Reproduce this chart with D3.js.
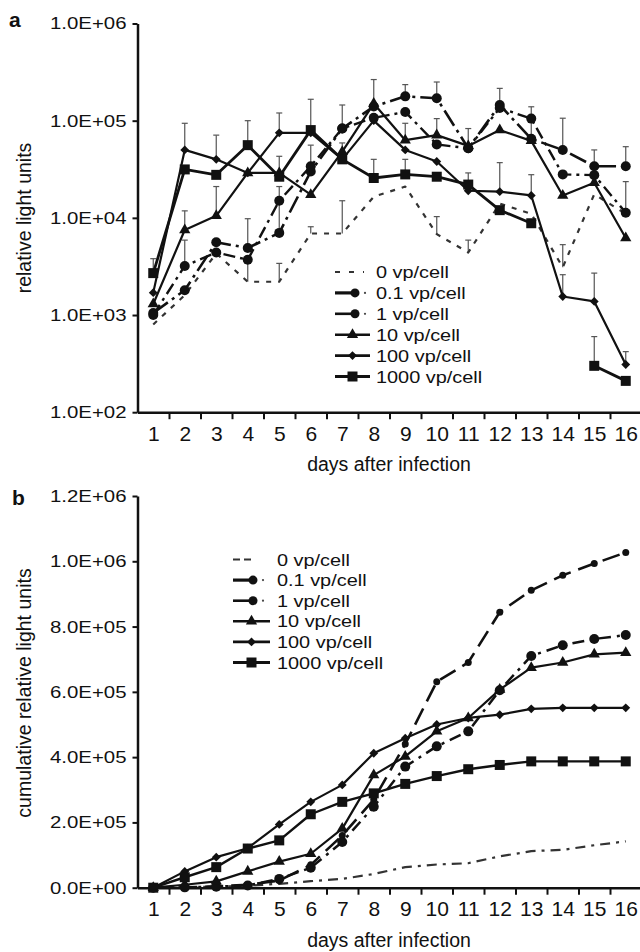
<!DOCTYPE html>
<html>
<head>
<meta charset="utf-8">
<script src="https://cdn.jsdelivr.net/npm/d3@7"></script>
<style>
  body { margin: 0; background: #fff; }
  text { font-family: "Liberation Sans", Arial, sans-serif; fill: #111; }
</style>
</head>
<body>
<div id="chart"></div>
<script>

// ---- data ----
var days = d3.range(1, 17);
var seriesNames = ["0 vp/cell", "0.1 vp/cell", "1 vp/cell", "10 vp/cell", "100 vp/cell", "1000 vp/cell"];

// panel a: relative light units per day (log scale), err = top of error bar
var rlu0    = [800, 1600, 4300, 2200, 2200, 6900, 6900, 16500, 21000, 6800, 4400, 14000, 11000, 3100, 17500, 11000];
var rlu01   = [1050, 1800, 5600, 4900, 7000, 30000, 83000, 140000, 178000, 170000, 52000, 145000, 65000, 50000, 34000, 34000];
var rlu1    = [1000, 3200, 4400, 3700, 15000, 34000, 83000, 107000, 123000, 57000, 52000, 135000, 105000, 28000, 27500, 11300];
var rlu10   = [1300, 7500, 10500, 29000, 29000, 17300, 48000, 150000, 63000, 71000, 55000, 80000, 62000, 17000, 23000, 6200];
var rlu100  = [1700, 50000, 40000, 29000, 75000, 75000, 40000, 100000, 50000, 38000, 19000, 18600, 17000, 1550, 1380, 310];
var rlu1000 = [2700, 31500, 27700, 56000, 26500, 80000, 40000, 25700, 28000, 26500, 22000, 12000, 8800, null, 300, 210];

var err0    = [null, null, null, 3400, 3400, 8100, 15000, null, null, 10300, 5900, null, null, 5300, null, null];
var err01   = [null, null, null, 9800, 21000, null, null, null, 235000, 250000, null, 215000, 139000, 106000, null, 54000];
var err1    = [null, 5900, null, null, null, 56000, 145000, null, null, null, null, null, null, null, null, 23600];
var err10   = [null, 11800, 21000, null, 43000, null, null, 265000, 94000, 105000, 83000, null, null, null, 50000, null];
var err100  = [null, 94000, 71000, null, 120000, null, null, null, null, null, null, 37000, 27800, 2600, 2700, 420];
var err1000 = [3800, null, null, 100000, null, 166000, 59000, 40000, 40000, null, 29000, null, null, null, 600, null];

// panel b: cumulative relative light units
var cum0    = [0, 1500, 3000, 6000, 12000, 20000, 27000, 42000, 63000, 71000, 75000, 96000, 112000, 116000, 130000, 142000];
var cum01   = [0, 1000, 4000, 9000, 22000, 70000, 160000, 270000, 440000, 631000, 690000, 844000, 911000, 957000, 993000, 1027000];
var cum1    = [0, 1000, 3000, 7000, 27000, 61000, 140000, 248000, 371000, 433000, 479000, 605000, 710000, 743000, 762000, 774000];
var cum10   = [0, 9000, 19500, 50000, 80000, 104000, 181000, 345000, 402000, 479000, 520000, 607000, 674000, 690000, 715000, 720000];
var cum100  = [0, 50000, 93500, 121000, 194000, 263000, 315000, 412000, 458000, 500000, 520000, 530000, 548000, 551000, 551000, 551000];
var cum1000 = [0, 32000, 63000, 120000, 145000, 225000, 263000, 289000, 318000, 342000, 363000, 376000, 387000, 387000, 387000, 387000];

var ticksA = [1e2, 1e3, 1e4, 1e5, 1e6];
var ticksB = [0, 2e5, 4e5, 6e5, 8e5, 1e6, 1.2e6];

// ---- styles (per series index) ----
var stylesA = [
    { dash: "5,7",        width: 2.2, marker: null },
    { dash: "18,5,3,5",   width: 2.6, marker: "circle", size: 5 },
    { dash: "12,5,3,5",   width: 2.4, marker: "circle", size: 5 },
    { dash: null,         width: 2.2, marker: "triangle", size: 10 },
    { dash: null,         width: 2.2, marker: "diamond", size: 5 },
    { dash: null,         width: 2.8, marker: "square", size: 10 }
];
var stylesB = [
    { dash: "10,6,3,6",   width: 2.2, marker: null },
    { dash: "18,8",       width: 2.6, marker: "circle", size: 3.5 },
    { dash: "12,6,3,6",   width: 2.5, marker: "circle", size: 5 },
    { dash: null,         width: 2.2, marker: "triangle", size: 10 },
    { dash: null,         width: 2.2, marker: "diamond", size: 5 },
    { dash: null,         width: 2.4, marker: "square", size: 10 }
];

var svg = d3.select("#chart").append("svg")
    .attr("width", 640)
    .attr("height", 952);

var x = d3.scaleLinear().domain([0.5, 16.5]).range([137.5, 641.5]);

function fmtE(v) {
    var parts = v.toExponential(1).split("e");
    return parts[0] + "E" + parts[1][0] + parts[1].slice(1).padStart(2, "0");
}

function markerPath(type, size) {
    if (type === "circle") return d3.symbol(d3.symbolCircle, Math.PI * size * size)();
    if (type === "square") return d3.symbol(d3.symbolSquare, size * size)();
    if (type === "diamond") return d3.symbol(d3.symbolDiamond2 || d3.symbolSquare, size * size * 2)();
    if (type === "triangle") return d3.symbol(d3.symbolTriangle, size * size * 0.55)();
}

function drawMarker(g, type, size, cx, cy) {
    var p = g.append("path")
        .attr("d", markerPath(type, size))
        .attr("fill", "#111");
    if (type === "diamond" && !d3.symbolDiamond2) {
        p.attr("transform", "translate(" + cx + "," + cy + ") rotate(45)");
    } else {
        p.attr("transform", "translate(" + cx + "," + cy + ")");
    }
}

function drawPanel(cfg) {
    var g = svg.append("g");
    var y = cfg.y;
    var y0 = y.range()[0];

    // error bars
    cfg.series.forEach(function(s) {
        if (!s.err) return;
        s.err.forEach(function(e, i) {
            if (e == null || s.values[i] == null) return;
            var cx = x(days[i]);
            g.append("line").attr("x1", cx).attr("x2", cx)
                .attr("y1", y(s.values[i])).attr("y2", y(e))
                .attr("stroke", "#555").attr("stroke-width", 1.2);
            g.append("line").attr("x1", cx - 3).attr("x2", cx + 3)
                .attr("y1", y(e)).attr("y2", y(e))
                .attr("stroke", "#555").attr("stroke-width", 1.2);
        });
    });

    // lines
    var line = d3.line()
        .defined(function(d) { return d.v != null; })
        .x(function(d) { return x(d.day); })
        .y(function(d) { return y(d.v); });

    cfg.series.forEach(function(s, k) {
        var st = cfg.styles[k];
        var pts = days.map(function(d, i) { return { day: d, v: s.values[i] }; });
        g.append("path")
            .datum(pts)
            .attr("d", line)
            .attr("fill", "none")
            .attr("stroke", k === 0 ? "#333" : "#111")
            .attr("stroke-width", st.width)
            .attr("stroke-dasharray", st.dash)
            .attr("stroke-linejoin", "round");
        if (st.marker) {
            pts.forEach(function(p) {
                if (p.v == null) return;
                drawMarker(g, st.marker, st.size, x(p.day), y(p.v));
            });
        }
    });

    // x axis: labels at centres, ticks at boundaries
    var xl = g.append("g").attr("transform", "translate(0," + y0 + ")")
        .call(d3.axisBottom(x).tickValues(days).tickSize(0).tickPadding(13.5).tickFormat(d3.format("d")));
    xl.select(".domain").attr("stroke", "#111").attr("stroke-width", 2.5);
    xl.selectAll("text").style("font-size", "21px").style("font-family", "'Liberation Sans', Arial, sans-serif");

    var xt = g.append("g").attr("transform", "translate(0," + y0 + ")")
        .call(d3.axisBottom(x).tickValues(d3.range(1.5, 17, 1)).tickSize(7).tickSizeOuter(0).tickFormat(""));
    xt.select(".domain").remove();
    xt.selectAll("line").attr("stroke", "#111").attr("stroke-width", 2);

    // y axis
    var ya = g.append("g").attr("transform", "translate(137.5,0)")
        .call(d3.axisLeft(y).tickValues(cfg.ticks).tickSize(5).tickSizeOuter(0).tickFormat(fmtE));
    ya.select(".domain").attr("stroke", "#111").attr("stroke-width", 2.5);
    ya.selectAll("line").attr("stroke", "#111").attr("stroke-width", 2);
    ya.selectAll("text")
        .style("font-size", "17px")
        .style("font-family", "'Liberation Sans', Arial, sans-serif")
        .attr("x", -11 / 1.2)
        .attr("transform", "scale(1.2,1)");

    // titles
    g.append("text")
        .attr("x", 389).attr("y", y0 + 59)
        .attr("text-anchor", "middle")
        .style("font-size", "19.5px")
        .text("days after infection");

    g.append("text")
        .attr("transform", "translate(" + cfg.titleX + "," + cfg.titleY + ") rotate(-90)")
        .attr("text-anchor", "middle")
        .attr("dy", "0.35em")
        .style("font-size", "19.5px")
        .text(cfg.yTitle);

    g.append("text")
        .attr("x", cfg.labelX).attr("y", cfg.labelY)
        .style("font-size", "21px")
        .style("font-weight", "bold")
        .text(cfg.label);

    // legend
    var lg = g.append("g");
    seriesNames.forEach(function(name, k) {
        var st = cfg.styles[k];
        var ry = cfg.legY + k * cfg.legStep;
        var x0 = cfg.legX;
        var w = cfg.legW;
        if (k === 0) {
            lg.append("line").attr("x1", x0).attr("x2", x0 + w - 6).attr("y1", ry).attr("y2", ry)
                .attr("stroke", "#333").attr("stroke-width", st.width)
                .attr("stroke-dasharray", cfg.legDash0);
        } else if (st.marker === "circle") {
            lg.append("line").attr("x1", x0).attr("x2", x0 + 20).attr("y1", ry).attr("y2", ry)
                .attr("stroke", "#111").attr("stroke-width", k === 1 ? 3.2 : 2.6);
            drawMarker(lg, "circle", 4.5, x0 + 20, ry);
            lg.append("circle").attr("cx", x0 + 30).attr("cy", ry).attr("r", 1.1).attr("fill", "#444");
        } else {
            lg.append("line").attr("x1", x0).attr("x2", x0 + w).attr("y1", ry).attr("y2", ry)
                .attr("stroke", "#111").attr("stroke-width", st.width + 0.4);
            drawMarker(lg, st.marker, st.size, x0 + w / 2, ry);
        }
        lg.append("g").attr("transform", "translate(" + cfg.legTextX + "," + (ry + 6) + ")")
            .append("text")
            .attr("transform", "scale(1.17,1)")
            .style("font-size", "17px")
            .text(name);
    });
}

drawPanel({
    y: d3.scaleLog().domain([1e2, 1e6]).range([412.2, 23.5]),
    ticks: ticksA,
    styles: stylesA,
    series: [
        { values: rlu0, err: err0 },
        { values: rlu01, err: err01 },
        { values: rlu1, err: err1 },
        { values: rlu10, err: err10 },
        { values: rlu100, err: err100 },
        { values: rlu1000, err: err1000 }
    ],
    yTitle: "relative light units",
    titleX: 24, titleY: 218,
    label: "a", labelX: 9, labelY: 27,
    legX: 335, legW: 35, legTextX: 376, legY: 272, legStep: 20.9, legDash0: "5,9"
});

drawPanel({
    y: d3.scaleLinear().domain([0, 1.2e6]).range([887.7, 496]),
    ticks: ticksB,
    styles: stylesB,
    series: [
        { values: cum0 },
        { values: cum01 },
        { values: cum1 },
        { values: cum10 },
        { values: cum100 },
        { values: cum1000 }
    ],
    yTitle: "cumulative relative light units",
    titleX: 24, titleY: 693,
    label: "b", labelX: 12, labelY: 505,
    legX: 233, legW: 37, legTextX: 277, legY: 559.5, legStep: 20.6, legDash0: "7,4,7,20"
});

</script>
</body>
</html>
